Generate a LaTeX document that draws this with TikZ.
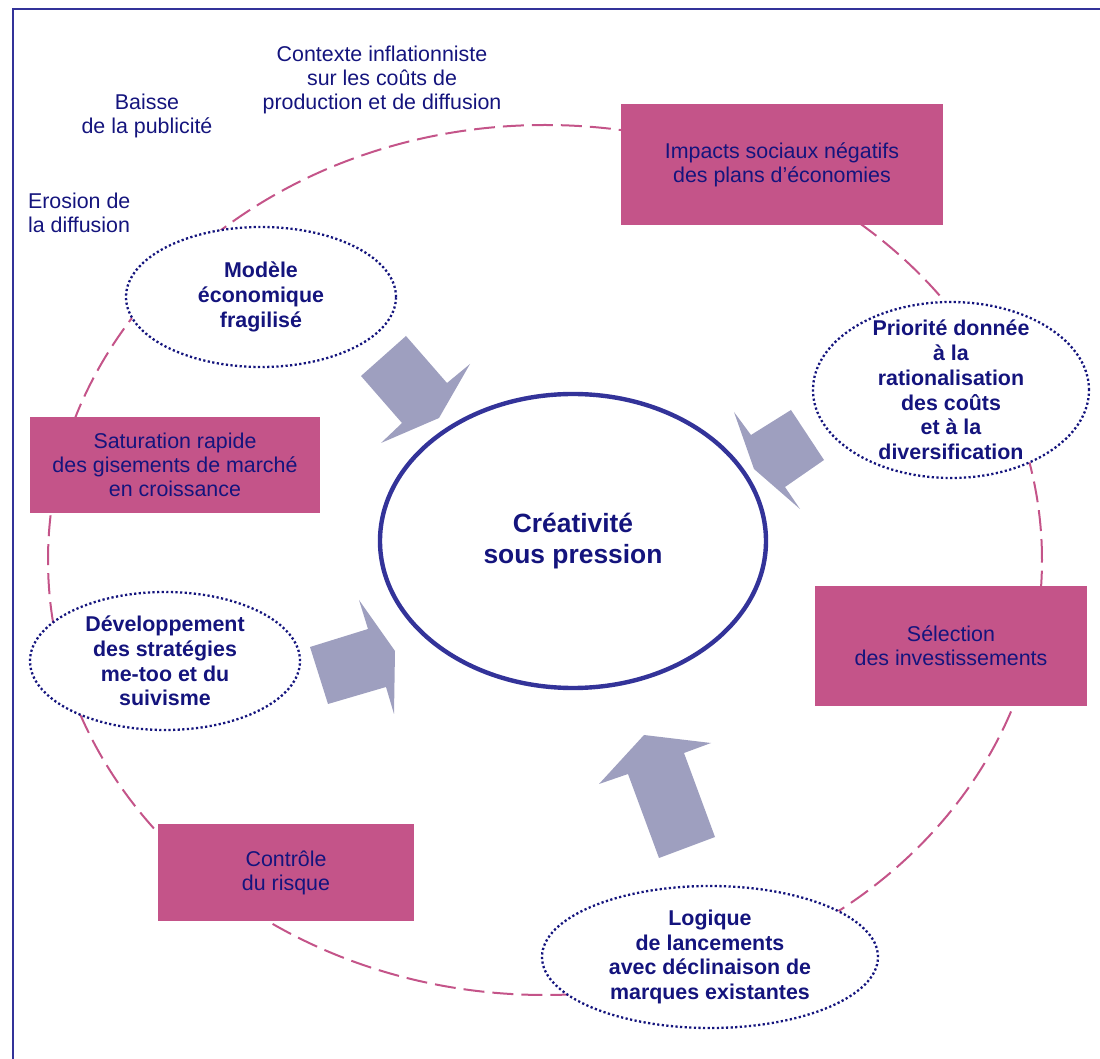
\documentclass[tikz,border=0pt]{standalone}
\usepackage{fontspec}
\setmainfont{Liberation Sans}
\usepackage{xcolor}
\usepackage{tikz}
\usetikzlibrary{shapes.geometric}
\definecolor{rose}{RGB}{196,84,137}
\definecolor{marine}{RGB}{20,20,125}
\definecolor{violet}{RGB}{51,51,153}
\definecolor{gris}{RGB}{158,159,191}

\begin{document}
\begin{tikzpicture}[x=0.5pt,y=-0.5pt,
    every node/.style={align=center,text=marine,font=\fontsize{10.7}{12}\selectfont},
    boite/.style={shape=rectangle,fill=rose,inner sep=0pt},
    ovale/.style={shape=ellipse,draw=marine,fill=white,line width=1.15pt,dash pattern=on 1.1pt off 1.2pt,inner sep=0pt},
    gras/.style={font=\fontsize{10.7}{12.4}\selectfont\bfseries},
    fleche/.style={fill=gris},
    anneau/.style={shape=ellipse,draw=rose,line width=1pt,dash pattern=on 10.5pt off 4pt,inner sep=0pt}]
  \useasboundingbox (0,0) rectangle (1100,1059);
  \draw[violet,line width=1pt] (13,1059) -- (13,9) -- (1100,9);

  % le cercle en tirets
  \node[anneau,minimum width=497pt,minimum height=435pt] (boucle) at (545,560) {};

  % textes libres
  \node (contexte) at (382,80) {Contexte inflationniste\\sur les coûts de\\production et de diffusion};
  \node (baisse) at (147,116) {Baisse\\de la publicité};
  \node[anchor=west,align=left] (erosion) at (21,213) {Erosion de\\la diffusion};

  % les boites roses
  \node[boite,minimum width=161pt,minimum height=60.5pt] (impacts) at (782,165) {Impacts sociaux négatifs\\des plans d'économies};
  \node[boite,minimum width=145pt,minimum height=48pt] (saturation) at (175,465) {Saturation rapide\\des gisements de marché\\en croissance};
  \node[boite,minimum width=136pt,minimum height=60pt] (selection) at (951,646) {Sélection\\des investissements};
  \node[boite,minimum width=128pt,minimum height=48.5pt] (controle) at (286,873) {Contrôle\\du risque};

  % les ovales en pointilles
  \node[ovale,minimum width=135pt,minimum height=70pt,label={[gras]center:{Modèle\\économique\\fragilisé}}] (modele) at (261,297) {};
  \node[ovale,minimum width=138pt,minimum height=88pt,label={[gras]center:{Priorité donnée\\à la\\rationalisation\\des coûts\\et à la\\diversification}}] (priorite) at (951,390) {};
  \node[ovale,minimum width=135pt,minimum height=69pt,label={[gras]center:{Développement\\des stratégies\\me-too et du\\suivisme}}] (developpement) at (165,661) {};
  \node[ovale,minimum width=168pt,minimum height=71pt,label={[gras]center:{Logique\\de lancements\\avec déclinaison de\\marques existantes}}] (logique) at (710,957) {};

  % le centre
  \node[shape=ellipse,draw=violet,line width=2.2pt,fill=white,minimum width=193pt,minimum height=147pt,
        font=\fontsize{13.2}{15.5}\selectfont\bfseries] (creativite) at (573,541) {Créativité\\sous pression};

  % les fleches
  \fill[fleche] (361,376) -- (406,336) -- (447,383) -- (470,364) -- (439,418) -- (381,443) -- (402,423) -- cycle;
  \fill[fleche] (791,410) -- (751,435) -- (734,412) -- (754,469) -- (800,509) -- (785,487) -- (824,460) -- cycle;
  \fill[fleche] (310,647) -- (368,629) -- (359,600) -- (395,651) -- (394,714) -- (386,687) -- (328,704) -- cycle;
  \fill[fleche] (659,858) -- (628,774) -- (599,784) -- (644,735) -- (711,743) -- (684,753) -- (715,837) -- cycle;
\end{tikzpicture}
\end{document}
